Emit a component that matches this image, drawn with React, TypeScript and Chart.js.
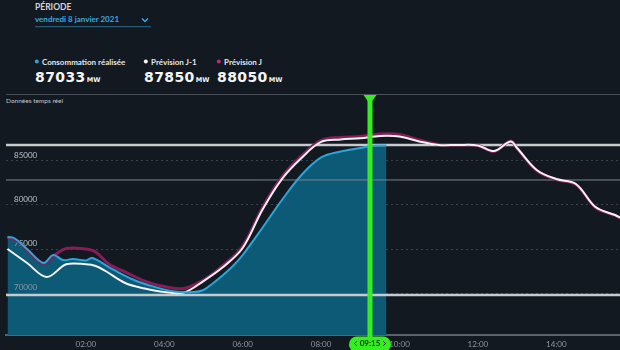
import React, { useEffect, useRef } from "react";
import { Chart, registerables } from "chart.js";

Chart.register(...registerables);

// ---------- texts ----------
const periodLabel = "PÉRIODE";
const dateLabel = "vendredi 8 janvier 2021";
const seriesNames = ["Consommation réalisée", "Prévision J-1", "Prévision J"];
const headlineValues = ["87033", "87850", "88050"];
const unitLabel = "MW";
const panelTitle = "Données temps réel";
const markerTime = "09:15";

// ---------- data ----------
const consoTimes = ["00:00", "00:10", "00:30", "00:55", "01:10", "01:25", "01:40", "02:00", "02:10", "02:35", "03:10", "03:35", "04:15", "04:45", "05:00", "05:15", "05:30", "05:45", "06:00", "06:30", "07:00", "07:30", "08:00", "08:30", "09:00", "09:15", "09:30", "09:40"];
const consoValues = [76360, 76250, 75000, 73410, 74320, 73750, 73860, 73690, 73980, 72950, 71590, 70910, 70170, 70110, 70340, 71140, 72050, 73070, 74320, 77390, 80570, 83410, 85400, 86080, 86480, 86700, 86760, 86760];

const prevJ1Times = ["00:00", "00:30", "01:00", "01:30", "02:00", "02:15", "02:30", "03:00", "03:30", "04:00", "04:30", "05:00", "05:30", "06:00", "06:30", "07:00", "07:30", "08:00", "08:30", "09:00", "09:30", "10:00", "10:30", "11:00", "11:30", "12:00", "12:25", "12:50", "13:00", "13:30", "14:00", "14:30", "15:00", "15:30", "15:40"];
const prevJ1Values = [75000, 73410, 71820, 73260, 73260, 73070, 72500, 71140, 70510, 70110, 70060, 71360, 72950, 75110, 79430, 82950, 85340, 87160, 87440, 87580, 87840, 87780, 87220, 86820, 86820, 86760, 86140, 87220, 86480, 83980, 82950, 82390, 79770, 78860, 78470];

const prevJTimes = ["00:00", "00:15", "00:30", "00:55", "01:10", "01:30", "02:00", "02:15", "02:35", "03:00", "03:30", "04:00", "04:30", "05:00", "05:30", "06:00", "06:30", "07:00", "07:30", "08:00", "08:30", "09:00", "09:30", "10:00", "10:30", "11:00", "11:30", "12:00", "12:25", "12:50", "13:00", "13:30", "14:00", "14:30", "15:00", "15:30", "15:40"];
const prevJValues = [76360, 75910, 74890, 73350, 74200, 75060, 75000, 74660, 73300, 72390, 71360, 70740, 70510, 71480, 73130, 75340, 79660, 83180, 85570, 87330, 87670, 87780, 88070, 88010, 87390, 86880, 86820, 86760, 86080, 87270, 86420, 83920, 82900, 82330, 79720, 78810, 78410];

const upperBandLevel = 86820;
const middleLineLevel = 82840;
const lowerBandLevel = 69770;

const yTickValues = [70000, 75000, 80000, 85000];
const xTickHours = [2, 4, 6, 8, 10, 12, 14];
const xMinHour = -0.038;
const xMaxHour = 15.625;
const yMinValue = 65230;
const yMaxValue = 91360;

// ---------- styles ----------
const BG = "#131920";
const BLUE = "#2aa6da";
const FILL = "#0d5a77";
const PINK = "#861d59";
const WHITE = "#f4f4f4";
const GREEN = "#35ee22";
const FILL_INDEX = 6;

const toHours = (t: string) => {
  const [h, m] = t.split(":").map(Number);
  return h + m / 60;
};
const toPoints = (times: string[], values: number[]) =>
  times.map((t, i) => ({ x: toHours(t), y: values[i] }));
const pad2 = (n: number) => (n < 10 ? "0" + n : "" + n);

const labelsOverFillPlugin = {
  id: "labelsOverFill",
  afterDatasetDraw(chart: any, args: any) {
    if (args.index === FILL_INDEX) {
      chart.scales.y.drawLabels(chart.chartArea);
    }
  },
};

const markerPlugin = {
  id: "timeMarker",
  afterDraw(chart: any) {
    const { ctx, chartArea } = chart;
    const x = Math.round(chart.scales.x.getPixelForValue(toHours(markerTime)));
    ctx.save();
    ctx.strokeStyle = GREEN;
    ctx.lineWidth = 5;
    ctx.beginPath();
    ctx.moveTo(x, chartArea.top - 9);
    ctx.lineTo(x, chartArea.bottom + 4);
    ctx.stroke();
    ctx.fillStyle = GREEN;
    ctx.beginPath();
    ctx.moveTo(x - 6.5, chartArea.top - 10);
    ctx.lineTo(x + 6.5, chartArea.top - 10);
    ctx.lineTo(x, chartArea.top - 1);
    ctx.closePath();
    ctx.fill();
    const w = 42, h = 16, y = chartArea.bottom + 1.5;
    ctx.beginPath();
    ctx.roundRect(x - w / 2, y, w, h, h / 2);
    ctx.fill();
    ctx.fillStyle = "#0d2a10";
    ctx.font = "bold 8px Lato";
    ctx.textAlign = "center";
    ctx.textBaseline = "middle";
    ctx.fillText(markerTime, x, y + 7);
    ctx.strokeStyle = "#0d2a10";
    ctx.lineWidth = 1;
    ctx.beginPath();
    ctx.moveTo(x - 13, y + 4.5);
    ctx.lineTo(x - 15.5, y + 7);
    ctx.lineTo(x - 13, y + 9.5);
    ctx.moveTo(x + 13, y + 4.5);
    ctx.lineTo(x + 15.5, y + 7);
    ctx.lineTo(x + 13, y + 9.5);
    ctx.stroke();
    ctx.restore();
  },
};

function LineChart() {
  const ref = useRef<HTMLCanvasElement>(null);
  useEffect(() => {
    if (!ref.current) return;
    const flat = (v: number) => [
      { x: xMinHour, y: v },
      { x: xMaxHour, y: v },
    ];
    const chart = new Chart(ref.current, {
      type: "line",
      data: {
        datasets: [
          {
            label: seriesNames[0],
            data: toPoints(consoTimes, consoValues),
            borderColor: BLUE,
            borderWidth: 2,
            pointRadius: 0,
            tension: 0.35,
            fill: false,
            order: 0,
          },
          {
            label: seriesNames[1],
            data: toPoints(prevJ1Times, prevJ1Values),
            borderColor: WHITE,
            borderWidth: 2,
            pointRadius: 0,
            tension: 0.35,
            fill: false,
            order: 1,
          },
          {
            label: seriesNames[2],
            data: toPoints(prevJTimes, prevJValues),
            borderColor: PINK,
            borderWidth: 3,
            pointRadius: 0,
            tension: 0.35,
            fill: false,
            order: 2,
          },
          {
            label: "upper",
            data: flat(upperBandLevel),
            borderColor: "#c6cacd",
            borderWidth: 2.5,
            pointRadius: 0,
            fill: false,
            order: 3,
          },
          {
            label: "lower",
            data: flat(lowerBandLevel),
            borderColor: "#c6cacd",
            borderWidth: 2.5,
            pointRadius: 0,
            fill: false,
            order: 3,
          },
          {
            label: "middle",
            data: flat(middleLineLevel),
            borderColor: "#7d838a",
            borderWidth: 1,
            pointRadius: 0,
            fill: false,
            order: 3,
          },
          {
            label: "fill",
            data: toPoints(consoTimes, consoValues),
            borderColor: "rgba(0,0,0,0)",
            borderWidth: 0,
            backgroundColor: FILL,
            pointRadius: 0,
            tension: 0.35,
            fill: "start",
            order: 4,
          },
        ],
      },
      options: {
        animation: false,
        responsive: false,
        maintainAspectRatio: false,
        layout: { padding: { top: 105, left: 6, right: 0, bottom: 0 } },
        plugins: { legend: { display: false }, tooltip: { enabled: false } },
        scales: {
          x: {
            type: "linear",
            min: xMinHour,
            max: xMaxHour,
            afterFit: (s: any) => {
              s.height = 15;
            },
            afterBuildTicks: (s: any) => {
              s.ticks = xTickHours.map((v) => ({ value: v }));
            },
            grid: { display: false, drawTicks: false },
            border: { display: true, color: "#5a636c", width: 2 },
            ticks: {
              autoSkip: false,
              maxRotation: 0,
              padding: 5,
              color: "#8e959c",
              font: { size: 8, family: "Lato" },
              callback: (v: any) => pad2(Number(v)) + ":00",
            },
          },
          y: {
            min: yMinValue,
            max: yMaxValue,
            afterFit: (s: any) => {
              s.width = 0;
            },
            afterBuildTicks: (s: any) => {
              s.ticks = yTickValues.map((v) => ({ value: v }));
            },
            grid: { color: "#3a424b", lineWidth: 1, drawTicks: false },
            border: { display: false, dash: [2, 3] },
            ticks: {
              mirror: true,
              padding: 8,
              labelOffset: -6,
              color: "#8e959c",
              font: { size: 8, family: "Lato" },
              callback: (v: any) => String(v),
            },
          },
        },
      },
      plugins: [labelsOverFillPlugin, markerPlugin],
    } as any);
    return () => chart.destroy();
  }, []);
  return (
    <canvas
      ref={ref}
      width={620}
      height={350}
      style={{ position: "absolute", left: 0, top: 0, width: 620, height: 350 }}
    />
  );
}

const dotColors = [BLUE, "#ffffff", "#c0287a"];
const legendX = [35, 144, 217];

export default function App() {
  return (
    <div
      style={{
        position: "fixed",
        left: 0,
        top: 0,
        width: 620,
        height: 350,
        background: BG,
        overflow: "hidden",
        fontFamily: "Lato, sans-serif",
      }}
    >
      <div style={{ position: "absolute", left: 35, top: 3, fontSize: 8.5, lineHeight: 1, color: "#d3d7db", fontWeight: 700 }}>
        {periodLabel}
      </div>
      <div style={{ position: "absolute", left: 35, top: 15.3, fontSize: 8, lineHeight: 1, color: "#36a9e1", fontWeight: 700 }}>
        {dateLabel}
      </div>
      <svg style={{ position: "absolute", left: 0, top: 0 }} width={620} height={100}>
        <polyline points="142,18.5 145,21.5 148,18.5" fill="none" stroke="#36a9e1" strokeWidth={1.5} />
        <line x1={35} y1={26.7} x2={151} y2={26.7} stroke="#2a6a88" strokeWidth={1} />
        <line x1={6} y1={94.5} x2={620} y2={94.5} stroke="#4a5158" strokeWidth={1} />
        {legendX.map((x, i) => (
          <circle key={i} cx={x + 1.8} cy={61.5} r={2} fill={dotColors[i]} />
        ))}
      </svg>
      {seriesNames.map((n, i) => (
        <div
          key={n}
          style={{ position: "absolute", left: legendX[i] + 7, top: 57.6, fontSize: 8, lineHeight: 1, color: "#e3e6e9", fontWeight: 700, whiteSpace: "nowrap" }}
        >
          {n}
        </div>
      ))}
      {headlineValues.map((v, i) => (
        <div
          key={v}
          style={{ position: "absolute", left: legendX[i], top: 69.4, lineHeight: 1, color: "#f4f5f6", whiteSpace: "nowrap", fontFamily: "'DejaVu Sans', sans-serif", fontWeight: 700 }}
        >
          <span style={{ fontSize: 14, letterSpacing: 0.4 }}>{v}</span>
          <span style={{ fontSize: 6.5, marginLeft: 1 }}>{unitLabel}</span>
        </div>
      ))}
      <div style={{ position: "absolute", left: 6, top: 97.5, fontSize: 6.5, lineHeight: 1, color: "#c2c6ca", whiteSpace: "nowrap" }}>
        {panelTitle}
      </div>
      <LineChart />
    </div>
  );
}
